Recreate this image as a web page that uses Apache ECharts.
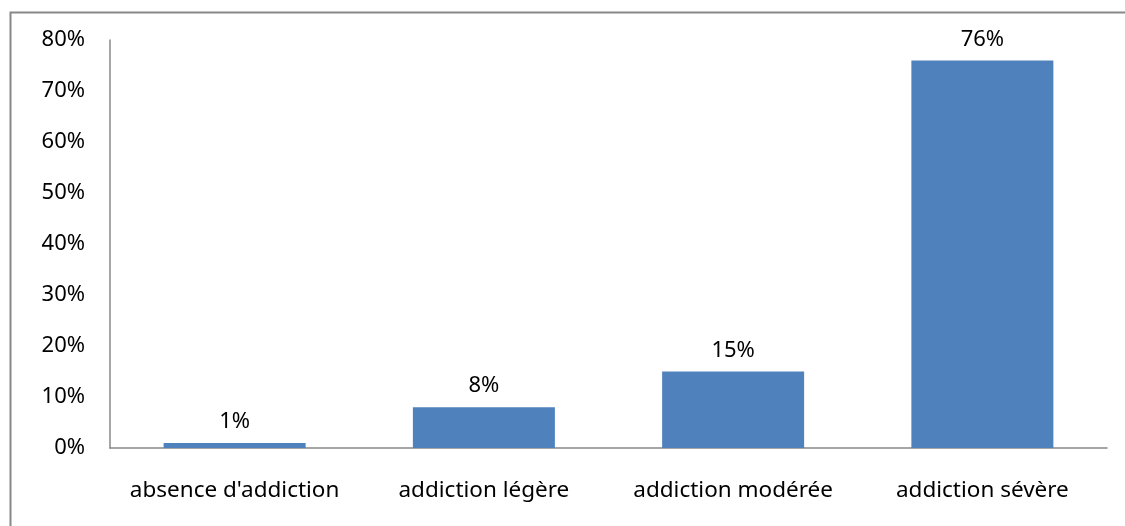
<!DOCTYPE html>
<html><head><meta charset="utf-8">
<script src="https://cdn.jsdelivr.net/npm/echarts@6/dist/echarts.min.js"></script>
<style>html,body{margin:0;padding:0;background:#fff}#c{width:1125px;height:526px}</style>
</head><body><div id="c"></div>
<script>
const categories = ["absence d'addiction", "addiction légère", "addiction modérée", "addiction sévère"];
const values = [1, 8, 15, 76];
const yTicks = [0, 10, 20, 30, 40, 50, 60, 70, 80];
const font = "Noto Sans";
const chart = echarts.init(document.getElementById('c'));
chart.setOption({
  animation: false,
  backgroundColor: '#fff',
  graphic: [{type:'rect', shape:{x:10.5,y:12.5,width:1130,height:530}, style:{fill:'none', stroke:'#888', lineWidth:2}, silent:true}],
  grid: {left: 110, right: 18, top: 40, bottom: 78},
  xAxis: {type:'category', data: categories,
    axisLine:{lineStyle:{color:'#888', width:1.5}}, axisTick:{show:false},
    axisLabel:{color:'#000', fontFamily:font, fontSize:22.5, margin:31, interval:0}},
  yAxis: {type:'value', min: yTicks[0], max: yTicks[yTicks.length-1], interval: 10,
    axisLine:{show:true, lineStyle:{color:'#888', width:1.5}}, axisTick:{show:false}, splitLine:{show:false},
    axisLabel:{color:'#000', fontFamily:font, fontSize:22, margin:25, formatter: v => v + '%'}},
  series: [{type:'bar', data: values, barWidth: 142, itemStyle:{color:'#4F81BD'},
    label:{show:true, position:'top', distance:10, color:'#000', fontFamily:font, fontSize:22, formatter: p => p.value + '%'}}]
});
</script></body></html>
